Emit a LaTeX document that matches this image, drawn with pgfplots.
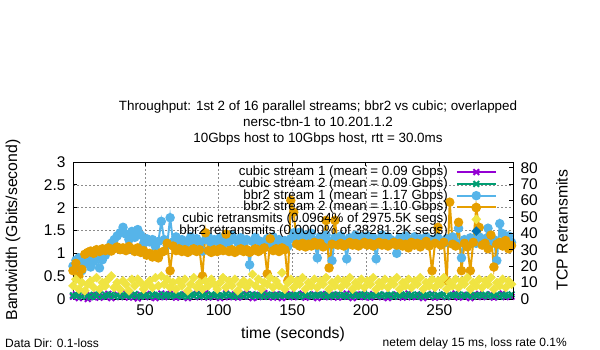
\documentclass[border=0pt]{standalone}
\usepackage{fontspec}
\setmainfont{Liberation Sans}
\usepackage{pgfplots}
\usepackage{pgfplotstable}
\pgfplotsset{compat=1.18}
\definecolor{cpurple}{HTML}{9400D3}
\definecolor{cgreen}{HTML}{009E73}
\definecolor{cblue}{HTML}{56B4E9}
\definecolor{corange}{HTML}{E69F00}
\definecolor{cyellow}{HTML}{F0E442}
\definecolor{cdblue}{HTML}{0072B2}
\pgfplotstableread{
t c1 c2 b1 b2 cr
1 0.05 0.08 0.72 0.62 8
3 0.10 0.06 0.85 0.78 12
5 0.02 0.09 0.90 0.50 6
7 0.06 0.05 0.62 0.65 10
9 0.12 0.10 0.80 0.98 5
11 0.00 0.07 0.88 1.02 9
13 0.08 0.04 0.70 1.05 11
15 0.04 0.09 0.82 1.00 7
17 0.09 0.06 0.92 1.08 13
19 0.03 0.11 0.68 1.04 6
21 0.07 0.05 0.86 1.10 10
23 0.05 0.09 0.96 1.06 8
25 0.11 0.07 1.10 1.12 12
27 0.02 0.10 1.22 1.05 14
29 0.06 0.06 1.30 1.10 7
31 0.10 0.08 1.38 1.14 10
33 0.04 0.05 1.45 1.08 6
35 0.07 0.10 1.57 1.12 11
37 0.13 0.07 1.42 1.06 9
39 0.03 0.09 1.30 1.15 5
41 0.08 0.06 1.48 1.10 12
43 0.05 0.11 1.35 1.04 8
45 0.01 0.07 1.52 1.12 12
47 0.09 0.05 1.40 1.02 10
49 0.06 0.09 1.22 1.06 6
51 0.11 0.08 1.32 0.96 9
53 0.04 0.06 1.25 1.00 11
55 0.08 0.10 1.30 0.92 7
57 0.02 0.07 1.15 0.98 13
59 0.07 0.09 1.26 0.90 8
61 0.12 0.05 1.70 1.02 14
63 0.04 0.10 1.30 1.05 9
65 0.06 0.08 1.18 1.22 12
67 0.20 0.06 1.78 0.62 7
69 0.09 0.09 1.25 1.16 10
71 0.03 0.07 1.36 1.06 6
73 0.07 0.10 1.20 1.10 11
75 0.05 0.06 1.30 1.04 8
77 0.10 0.08 1.16 1.08 12
79 0.02 0.05 1.26 1.02 5
81 0.08 0.09 1.36 1.06 9
83 0.06 0.07 1.20 1.10 13
85 0.11 0.10 1.32 1.04 7
87 0.04 0.06 1.24 1.08 10
89 0.07 0.08 1.05 0.50 6
91 0.13 0.09 1.30 1.45 11
93 0.03 0.05 1.36 1.06 8
95 0.08 0.10 1.22 1.02 12
97 0.05 0.07 1.30 1.08 9
99 0.09 0.09 1.26 1.04 6
101 0.02 0.06 1.34 1.10 10
103 0.07 0.08 1.20 1.06 13
105 0.12 0.10 1.30 1.42 7
107 0.04 0.07 1.25 1.04 11
109 0.06 0.09 1.40 1.08 8
111 0.10 0.05 1.30 1.02 12
113 0.03 0.08 1.24 1.06 5
115 0.08 0.10 1.34 1.10 9
117 0.05 0.06 1.20 1.04 11
119 0.11 0.09 1.30 1.08 7
121 0.06 0.07 0.75 1.02 10
123 0.02 0.10 1.26 1.06 15
125 0.09 0.06 1.35 1.10 8
127 0.04 0.08 1.28 1.04 12
129 0.07 0.09 1.18 1.08 6
131 0.13 0.05 1.26 1.12 10
133 0.05 0.10 1.32 0.55 9
135 0.08 0.07 1.20 1.32 13
137 0.03 0.09 1.36 1.06 7
139 0.10 0.06 1.24 1.10 11
141 0.06 0.08 1.30 1.04 8
143 0.02 0.10 1.22 1.12 16
145 0.09 0.07 1.28 1.08 6
147 0.05 0.09 1.15 0.40 10
149 0.11 0.06 1.32 2.16 12
151 0.04 0.08 1.45 1.90 7
153 0.08 0.10 1.38 1.20 11
155 0.06 0.05 1.46 1.16 9
157 0.12 0.09 1.30 1.22 13
159 0.03 0.07 1.40 1.14 6
161 0.07 0.10 1.34 1.20 10
163 0.05 0.06 1.44 1.16 8
165 0.10 0.08 1.28 1.24 12
167 0.02 0.09 0.90 1.18 7
169 0.08 0.07 1.36 1.22 11
171 0.06 0.10 1.30 1.14 9
173 0.11 0.05 1.40 1.72 13
175 0.04 0.08 1.26 0.68 6
177 0.07 0.09 0.84 1.20 10
179 0.09 0.06 1.34 1.72 8
181 0.03 0.10 1.30 1.18 12
183 0.08 0.07 1.38 1.22 7
185 0.05 0.09 1.28 1.16 11
187 0.12 0.05 0.88 1.20 9
189 0.06 0.08 1.34 1.24 13
191 0.02 0.10 1.30 1.18 6
193 0.09 0.06 1.40 1.22 10
195 0.05 0.09 1.26 1.16 8
197 0.10 0.07 1.36 1.20 12
199 0.04 0.10 1.30 1.24 7
201 0.07 0.05 1.38 1.18 11
203 0.03 0.08 1.28 1.22 9
205 0.11 0.09 1.34 1.16 13
207 0.06 0.07 0.88 1.20 6
209 0.08 0.10 1.30 1.24 10
211 0.04 0.06 1.40 1.18 8
213 0.09 0.09 1.26 1.22 12
215 0.02 0.07 1.36 1.16 7
217 0.07 0.10 1.30 1.20 11
219 0.05 0.05 1.24 1.24 9
221 0.10 0.08 1.00 1.18 13
223 0.06 0.09 1.34 1.22 6
225 0.03 0.07 1.28 1.16 10
227 0.08 0.10 1.38 1.20 8
229 0.12 0.06 1.30 1.12 12
231 0.04 0.09 1.26 1.24 7
233 0.07 0.07 1.36 1.18 11
235 0.05 0.10 1.22 1.22 9
237 0.09 0.05 1.32 1.14 13
239 0.02 0.08 1.28 1.20 6
241 0.08 0.09 1.36 1.26 10
243 0.06 0.07 1.20 1.16 8
245 0.11 0.10 1.30 0.62 12
247 0.03 0.06 1.26 1.22 7
249 0.07 0.09 1.34 1.57 11
251 0.05 0.07 1.28 1.18 9
253 0.10 0.10 1.22 1.24 13
255 0.04 0.05 1.32 0.40 6
257 0.08 0.08 1.26 2.12 10
259 0.06 0.09 1.36 1.20 8
261 0.12 0.07 1.24 1.16 12
263 0.03 0.10 1.55 1.68 7
265 0.07 0.06 0.90 0.62 11
267 0.05 0.09 1.30 1.22 9
269 0.09 0.07 1.26 1.14 13
271 0.02 0.10 1.34 0.62 6
273 0.08 0.05 1.28 1.24 10
275 0.06 0.08 1.22 2.00 8
277 0.11 0.09 1.36 1.57 12
279 0.04 0.07 1.28 1.18 7
281 0.07 0.10 1.32 1.22 11
283 0.05 0.06 1.55 1.10 9
285 0.10 0.09 1.26 1.40 13
287 0.03 0.07 1.30 0.70 6
289 0.08 0.10 0.84 1.20 10
291 0.06 0.05 1.65 1.24 8
293 0.12 0.08 1.43 1.16 12
295 0.04 0.09 1.30 1.28 7
297 0.07 0.07 1.38 1.10 11
299 0.05 0.10 1.24 1.17 9
}\datatable
\pgfplotsset{
  stA/.style={color=cpurple, line width=2pt, mark=x, mark size=4pt, mark options={solid}},
  stB/.style={color=cgreen, line width=2pt, mark=x, mark size=4pt, mark options={solid}},
  stC/.style={color=cblue, line width=2pt, mark=*, mark size=3.7pt, mark options={fill=cblue, draw=cblue}},
  stD/.style={color=corange, line width=2pt, mark=*, mark size=3.7pt, mark options={fill=corange, draw=corange}},
  stE/.style={only marks, color=cyellow, mark=square*, mark size=3.2pt, mark options={fill=cyellow, draw=cyellow, rotate=45}},
  stF/.style={only marks, color=cdblue, mark=square*, mark size=3.2pt, mark options={fill=cdblue, draw=cdblue, rotate=45}},
}
\begin{document}
\begin{tikzpicture}[x=1pt,y=1pt]
\path[use as bounding box] (0,0) rectangle (600,350);
\begin{axis}[
  at={(73pt,51pt)}, anchor=south west, scale only axis,
  width=440pt, height=137pt,
  xmin=1, xmax=300, ymin=0, ymax=3,
  xtick={50,100,150,200,250}, ytick={0,0.5,1,1.5,2,2.5,3},
  xtick pos=both, ytick pos=left,
  tick align=inside, major tick length=4pt,
  grid=major,
  major grid style={color=black!45, dash pattern=on 2pt off 2pt, line width=0.6pt},
  axis line style={line width=0.9pt},
  tick style={line width=0.8pt, color=black},
  /pgf/number format/assume math mode=true,
  tick label style={font=\fontsize{15.5}{16}\selectfont},
  xticklabel style={yshift=-2pt},
  yticklabel style={xshift=-4pt},
  clip=true,
]
\addplot[stA] table[x=t,y=c1]{\datatable};
\addplot[stB] table[x=t,y=c2]{\datatable};
\addplot[stC] table[x=t,y=b1]{\datatable};
\addplot[stD] table[x=t,y=b2]{\datatable};
\end{axis}
\begin{axis}[
  at={(73pt,51pt)}, anchor=south west, scale only axis,
  width=440pt, height=137pt,
  xmin=1, xmax=300, ymin=0, ymax=83.5,
  hide x axis, axis y line*=right,
  ytick={0,10,20,30,40,50,60,70,80},
  tick align=inside, major tick length=4pt,
  axis line style={line width=0.9pt, -},
  tick style={line width=0.8pt, color=black},
  /pgf/number format/assume math mode=true,
  tick label style={font=\fontsize{15.5}{16}\selectfont},
  yticklabel style={xshift=4pt},
  legend style={at={(0.9636,0.9708)}, anchor=north east, draw=none, fill=none,
    font=\fontsize{13.3}{13.3}\selectfont, cells={anchor=east},
    inner sep=0pt, row sep=0pt, column sep=8pt,
    nodes={inner sep=0pt, text height=9.3pt, text depth=2.5pt}},
  legend plot pos=right,
  legend image code/.code={\draw[mark repeat=2,mark phase=2] plot coordinates {(0pt,0pt) (19.5pt,0pt) (39pt,0pt)};},
]
\addlegendimage{stA}
\addlegendentry{cubic stream 1 (mean = 0.09 Gbps)}
\addlegendimage{stB}
\addlegendentry{cubic stream 2 (mean = 0.09 Gbps)}
\addlegendimage{stC}
\addlegendentry{bbr2 stream 1 (mean = 1.17 Gbps)}
\addlegendimage{stD}
\addlegendentry{bbr2 stream 2 (mean = 1.10 Gbps)}
\addplot[stE] table[x=t,y=cr]{\datatable};
\addlegendentry{cubic retransmits (0.0964\% of 2975.5K segs)}
\addlegendimage{stF}
\addlegendentry{bbr2 retransmits (0.0000\% of 38281.2K segs)}
\end{axis}
\node[align=center, font=\fontsize{13.4}{16}\selectfont] at (318,227) {Throughput: 1st 2 of 16 parallel streams; bbr2 vs cubic; overlapped\\nersc-tbn-1 to 10.201.1.2\\10Gbps host to 10Gbps host, rtt = 30.0ms};
\node[font=\fontsize{15.8}{16}\selectfont] at (293,16) {time (seconds)};
\node[font=\fontsize{15.8}{16}\selectfont, rotate=90] at (13,120) {Bandwidth (Gbits/second)};
\node[font=\fontsize{15.8}{16}\selectfont, rotate=90] at (562,120) {TCP Retransmits};
\node[font=\fontsize{12}{12}\selectfont, anchor=west, inner sep=0pt] at (5,7) {Data Dir: 0.1-loss};
\node[font=\fontsize{12}{12}\selectfont, anchor=east, inner sep=0pt] at (567,7) {netem delay 15 ms, loss rate 0.1\%};
\end{tikzpicture}
\end{document}
